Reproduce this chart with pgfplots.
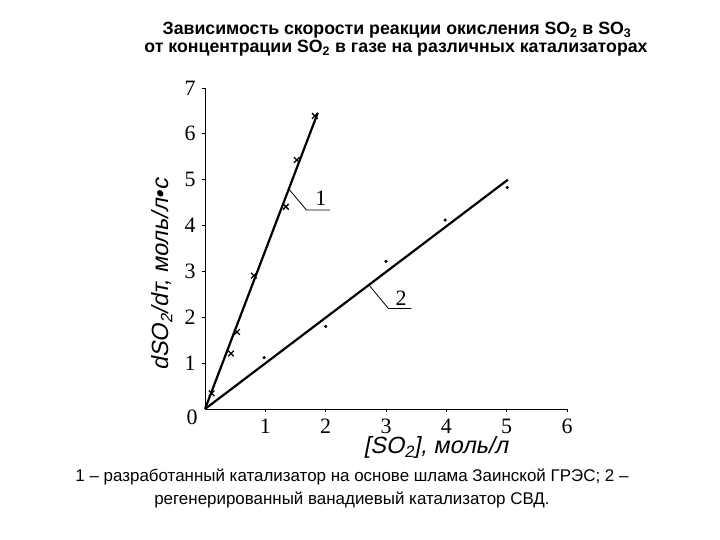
\documentclass[border=0pt]{standalone}
\usepackage{pgfplots}
\pgfplotsset{compat=1.18}
\usepackage{fontspec}
\setmainfont{Liberation Sans}
\newfontfamily\serifnum{Liberation Serif}
\newfontfamily\oblique{Liberation Sans}[FakeSlant=0.2]
\begin{document}
\begin{tikzpicture}[x=1bp,y=1bp]
\path[use as bounding box] (0,0) rectangle (720,540);
% title
\node[anchor=base,inner sep=0pt,font=\bfseries\fontsize{17.8}{20}\selectfont] at (397,505)
  {Зависимость скорости реакции окисления SO\textsubscript{2} в SO\textsubscript{3}};
\node[anchor=base,inner sep=0pt,font=\bfseries\fontsize{17.8}{20}\selectfont] at (396,487.7)
  {от концентрации SO\textsubscript{2} в газе на различных катализаторах};
\begin{axis}[
  at={(205bp,131bp)}, anchor=south west,
  scale only axis, width=362bp, height=321bp,
  xmin=0, xmax=6, ymin=0, ymax=7,
  axis x line*=bottom, axis y line*=left,
  axis line style={black, line width=0.9bp},
  xtick={1,2,3,4,5,6}, ytick={1,2,3,4,5,6,7},
  tick align=outside, major tick length=3bp,
  tick style={black, line width=0.8bp},
  /pgf/number format/assume math mode=true,
  ticklabel style={font=\serifnum\fontsize{22}{24}\selectfont},
  xticklabel style={inner sep=1bp, yshift=-5bp, text height=15bp, text depth=0bp},
  yticklabel style={xshift=-3bp},
  clip=false,
]
\addplot[black, line width=2.2bp] coordinates {(0,0) (1.87,6.46)};
\addplot[black, line width=2.2bp] coordinates {(0,0) (5.02,5.0)};
\addplot[only marks, mark=x, mark size=4bp, black, line width=1.3bp] coordinates {
  (0.11,0.34) (0.43,1.21) (0.53,1.68) (0.81,2.91) (1.34,4.41) (1.52,5.43) (1.82,6.39)};
\addplot[only marks, mark=*, mark size=1.4bp, black] coordinates {
  (0.98,1.12) (2.0,1.8) (3.0,3.22) (3.98,4.12) (5.01,4.83)};
% leader lines
\addplot[black, line width=0.8bp] coordinates {(1.40,4.78) (1.68,4.34) (2.07,4.34)};
\addplot[black, line width=0.8bp] coordinates {(2.72,2.70) (3.04,2.19) (3.42,2.19)};
\node[font=\serifnum\fontsize{22}{24}\selectfont] at (axis cs:1.92,4.60) {1};
\node[font=\serifnum\fontsize{22}{24}\selectfont] at (axis cs:3.25,2.42) {2};
\end{axis}
% zero label
\node[font=\serifnum\fontsize{22}{24}\selectfont] at (192,122.5) {0};
% axis labels
\node[anchor=base,inner sep=1pt,font=\oblique\fontsize{23.5}{26}\selectfont] at (436,86)
  {[SO\textsubscript{2}], моль/л};
\node[rotate=90,font=\oblique\fontsize{23.5}{26}\selectfont] at (162,265)
  {dSO\textsubscript{2}/dт, моль/л•с};
% caption
\node[anchor=base,font=\fontsize{17}{20}\selectfont] at (352,58)
  {1 – разработанный катализатор на основе шлама Заинской ГРЭС; 2 –};
\node[anchor=base,font=\fontsize{17}{20}\selectfont] at (352,35)
  {регенерированный ванадиевый катализатор СВД.};
\end{tikzpicture}
\end{document}
